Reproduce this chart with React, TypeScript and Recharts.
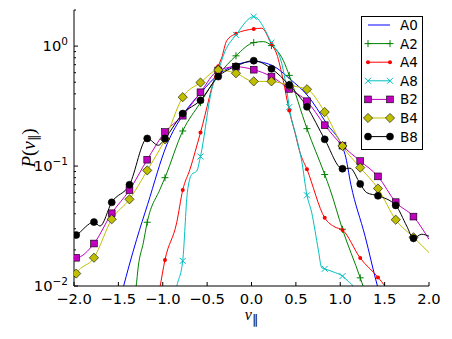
import React from 'react';
import { LineChart, Line, XAxis, YAxis, Legend, Label } from 'recharts';

const MARKER_X = [-1.975, -1.775, -1.575, -1.375, -1.175, -0.975, -0.775, -0.575, -0.375, -0.175, 0.025, 0.225, 0.425, 0.625, 0.825, 1.025, 1.225, 1.425, 1.625, 1.825];

const A0_x = [-1.5, -1.444, -1.38, -1.294, -1.17, -0.955, -0.768, -0.569, -0.366, -0.167, 0.032, 0.239, 0.434, 0.637, 0.839, 1.054, 1.12, 1.28, 1.422, 1.48];
const A0_y = [0.0069, 0.0098, 0.0147, 0.0245, 0.048, 0.15, 0.27, 0.41, 0.585, 0.7, 0.745, 0.686, 0.531, 0.383, 0.23, 0.125, 0.07, 0.026, 0.0098, 0.007];

const A2_x = [-1.33, -1.301, -1.275, -1.219, -1.175, -1.031, -0.975, -0.775, -0.575, -0.375, -0.175, 0.025, 0.133, 0.225, 0.358, 0.425, 0.625, 0.825, 0.885, 1.025, 1.225, 1.26, 1.3];
const A2_y = [0.0075, 0.0098, 0.0147, 0.0229, 0.034, 0.064, 0.08, 0.196, 0.338, 0.57, 0.83, 1.07, 1.09, 1.01, 0.76, 0.57, 0.205, 0.085, 0.064, 0.0297, 0.0117, 0.0098, 0.0075];

const A4_x = [-1.06, -1.031, -0.975, -0.843, -0.775, -0.693, -0.575, -0.375, -0.336, -0.279, -0.175, 0.025, 0.115, 0.225, 0.284, 0.358, 0.425, 0.49, 0.546, 0.625, 0.825, 0.941, 1.025, 1.225, 1.425, 1.508, 1.55];
const A4_y = [0.0075, 0.0098, 0.0165, 0.0337, 0.063, 0.094, 0.19, 0.68, 0.8, 1.11, 1.27, 1.39, 1.41, 1.04, 0.86, 0.515, 0.29, 0.19, 0.13, 0.094, 0.037, 0.031, 0.0293, 0.0171, 0.0118, 0.0098, 0.0085];

const A8_x = [-0.87, -0.843, -0.775, -0.723, -0.674, -0.617, -0.575, -0.448, -0.375, -0.3, -0.175, 0.025, 0.225, 0.34, 0.4, 0.425, 0.509, 0.566, 0.625, 0.678, 0.753, 0.791, 0.825, 0.922, 1.025, 1.091, 1.147, 1.18];
const A8_y = [0.0075, 0.0098, 0.0162, 0.06, 0.085, 0.091, 0.12, 0.435, 0.62, 0.9, 1.24, 1.76, 1.07, 0.72, 0.42, 0.31, 0.17, 0.11, 0.057, 0.041, 0.02, 0.0142, 0.0139, 0.0131, 0.0121, 0.0109, 0.0098, 0.0075];

const B2_x = [-2.0, ...MARKER_X, 2.0];
const B2_y = [0.0172, 0.0172, 0.0226, 0.0404, 0.063, 0.113, 0.192, 0.263, 0.412, 0.627, 0.673, 0.636, 0.557, 0.44, 0.347, 0.219, 0.148, 0.11, 0.082, 0.05, 0.0379, 0.0245];

const B4_x = [-2.0, ...MARKER_X, 2.0];
const B4_y = [0.0118, 0.0127, 0.0172, 0.036, 0.0528, 0.092, 0.167, 0.375, 0.497, 0.633, 0.594, 0.508, 0.508, 0.47, 0.437, 0.282, 0.147, 0.097, 0.065, 0.0357, 0.0255, 0.019];

const B8_x = [-2.0, -1.975, -1.775, -1.707, -1.575, -1.375, -1.175, -1.05, -0.975, -0.775, -0.575, -0.375, -0.175, 0.025, 0.225, 0.425, 0.625, 0.825, 1.025, 1.11, 1.225, 1.298, 1.425, 1.625, 1.749, 1.825, 1.918, 2.0];
const B8_y = [0.026, 0.0266, 0.0341, 0.0316, 0.0498, 0.0698, 0.17, 0.149, 0.17, 0.274, 0.354, 0.557, 0.679, 0.756, 0.648, 0.473, 0.312, 0.167, 0.095, 0.096, 0.071, 0.06, 0.0565, 0.047, 0.0316, 0.025, 0.027, 0.026];

const SERIES_NAMES = ['A0', 'A2', 'A4', 'A8', 'B2', 'B4', 'B8'];
const SERIES_COLORS = ['#0000ff', '#008000', '#ff0000', '#00bfbf', '#bf00bf', '#bfbf00', '#000000'];
const SERIES_MARKERS = ['none', 'plus', 'dot', 'x', 'square', 'diamond', 'circle'];

const X_TICKS = [-2, -1.5, -1, -0.5, 0, 0.5, 1, 1.5, 2];
const Y_MAJOR = [0.01, 0.1, 1];
const Y_MAJOR_EXP = ['\u22122', '\u22121', '0'];
const Y_MINOR = [0.02, 0.03, 0.04, 0.05, 0.06, 0.07, 0.08, 0.09, 0.2, 0.3, 0.4, 0.5, 0.6, 0.7, 0.8, 0.9, 2];
const Y_TICKS = [...Y_MAJOR, ...Y_MINOR].sort((a, b) => a - b);

const FONT = '"DejaVu Sans", sans-serif';
const SERIF = '"Liberation Serif", "DejaVu Serif", serif';

function build(xs: number[], ys: number[]) {
  return xs.map((x, i) => ({ x, y: ys[i], m: MARKER_X.some((mx) => Math.abs(mx - x) < 1e-6) }));
}

const SERIES_DATA = [
  build(A0_x, A0_y),
  build(A2_x, A2_y),
  build(A4_x, A4_y),
  build(A8_x, A8_y),
  build(B2_x, B2_y),
  build(B4_x, B4_y),
  build(B8_x, B8_y),
];

function renderMarker(kind: string, color: string, cx: number, cy: number, key: string) {
  switch (kind) {
    case 'plus':
      return (
        <g key={key}>
          <line x1={cx - 3.5} x2={cx + 3.5} y1={cy} y2={cy} stroke={color} strokeWidth={1} />
          <line x1={cx} x2={cx} y1={cy - 3.5} y2={cy + 3.5} stroke={color} strokeWidth={1} />
        </g>
      );
    case 'dot':
      return <circle key={key} cx={cx} cy={cy} r={2} fill={color} stroke="none" />;
    case 'x':
      return (
        <g key={key}>
          <line x1={cx - 3} x2={cx + 3} y1={cy - 3} y2={cy + 3} stroke={color} strokeWidth={1} />
          <line x1={cx - 3} x2={cx + 3} y1={cy + 3} y2={cy - 3} stroke={color} strokeWidth={1} />
        </g>
      );
    case 'square':
      return <rect key={key} x={cx - 3.4} y={cy - 3.4} width={6.8} height={6.8} fill={color} stroke="#000" strokeWidth={0.6} />;
    case 'diamond':
      return (
        <polygon key={key} points={`${cx},${cy - 4.6} ${cx + 4.6},${cy} ${cx},${cy + 4.6} ${cx - 4.6},${cy}`} fill={color} stroke="#000" strokeWidth={0.6} />
      );
    case 'circle':
      return <circle key={key} cx={cx} cy={cy} r={3.5} fill={color} stroke="#000" strokeWidth={0.6} />;
    default:
      return <g key={key} />;
  }
}

function makeDot(idx: number) {
  return (props: any) => {
    const { cx, cy, payload, index } = props;
    const key = `d-${idx}-${index}`;
    if (!payload || !payload.m || SERIES_MARKERS[idx] === 'none') return <g key={key} />;
    return renderMarker(SERIES_MARKERS[idx], SERIES_COLORS[idx], cx, cy, key);
  };
}

const fmtX = (v: number) => {
  const s = v.toFixed(1);
  return v < 0 ? '\u2212' + s.slice(1) : s;
};

const BottomTick = (props: any) => {
  const { x, y, payload } = props;
  return (
    <g>
      <line x1={x} x2={x} y1={y} y2={y - 4} stroke="#000" strokeWidth={1} />
      <text x={x} y={y + 17.5} textAnchor="middle" fontFamily={FONT} fontSize={14.7} fill="#000">
        {fmtX(payload.value)}
      </text>
    </g>
  );
};

const TopTick = (props: any) => {
  const { x, y } = props;
  return <line x1={x} x2={x} y1={y} y2={y + 4} stroke="#000" strokeWidth={1} />;
};

const LeftTick = (props: any) => {
  const { x, y, payload } = props;
  const mi = Y_MAJOR.findIndex((v) => Math.abs(v - payload.value) < 1e-9);
  if (mi < 0) {
    return <line x1={x} x2={x + 2} y1={y} y2={y} stroke="#000" strokeWidth={1} />;
  }
  return (
    <g>
      <line x1={x} x2={x + 4} y1={y} y2={y} stroke="#000" strokeWidth={1} />
      <text x={x - 6} y={y + 5} textAnchor="end" fontFamily={FONT} fontSize={14.7} fill="#000">
        10
        <tspan dy={-6.5} fontSize={10.5}>
          {Y_MAJOR_EXP[mi]}
        </tspan>
      </text>
    </g>
  );
};

const RightTick = (props: any) => {
  const { x, y, payload } = props;
  const major = Y_MAJOR.some((v) => Math.abs(v - payload.value) < 1e-9);
  return <line x1={x} x2={x - (major ? 4 : 2)} y1={y} y2={y} stroke="#000" strokeWidth={1} />;
};

const XLabel = (props: any) => {
  const vb = props.viewBox || {};
  const cx = vb.x + vb.width / 2;
  const y = vb.y + 34;
  return (
    <text x={cx} y={y} textAnchor="middle" fontFamily={SERIF} fontSize={16} fill="#000">
      <tspan fontStyle="italic">v</tspan>
      <tspan dy={4} fontSize={13} fontFamily={FONT}>
        {'\u2225'}
      </tspan>
    </text>
  );
};

const YLabel = (props: any) => {
  const vb = props.viewBox || {};
  const cx = 28;
  const cy = vb.y + vb.height / 2;
  return (
    <text
      x={cx}
      y={cy}
      transform={`rotate(-90, ${cx}, ${cy})`}
      textAnchor="middle"
      dominantBaseline="central"
      fontFamily={SERIF}
      fontSize={19}
      fill="#000"
    >
      <tspan fontStyle="italic">P</tspan>
      <tspan>(</tspan>
      <tspan fontStyle="italic">v</tspan>
      <tspan dy={5} fontSize={13} fontFamily={FONT}>
        {'\u2225'}
      </tspan>
      <tspan dy={-5}>)</tspan>
    </text>
  );
};

const renderLegend = () => (
  <svg width={63} height={134} style={{ display: 'block' }}>
    <rect x={0.5} y={0.5} width={61} height={133} fill="#fff" stroke="#000" strokeWidth={1} />
    {SERIES_NAMES.map((name, i) => {
      const y = 9 + i * 18.6;
      return (
        <g key={name}>
          <line x1={7} x2={29} y1={y} y2={y} stroke={SERIES_COLORS[i]} strokeWidth={1} />
          {renderMarker(SERIES_MARKERS[i], SERIES_COLORS[i], 7, y, `l1-${i}`)}
          {renderMarker(SERIES_MARKERS[i], SERIES_COLORS[i], 29, y, `l2-${i}`)}
          <text x={39} y={y + 5} fontFamily={FONT} fontSize={13.5} fill="#000">
            {name}
          </text>
        </g>
      );
    })}
  </svg>
);

export default function App() {
  return (
    <div style={{ position: 'absolute', left: 0, top: 0, width: 452, height: 339, background: '#fff' }}>
      <LineChart width={452} height={339} margin={{ top: 10, right: 23, left: 0, bottom: 0 }}>
        <XAxis
          xAxisId={0}
          dataKey="x"
          type="number"
          domain={[-2, 2]}
          ticks={X_TICKS}
          interval={0}
          allowDataOverflow
          height={53}
          tickSize={0}
          tickMargin={0}
          tickLine={false}
          axisLine={{ stroke: '#000', strokeWidth: 1 }}
          tick={<BottomTick />}
        >
          <Label content={<XLabel />} />
        </XAxis>
        <XAxis
          xAxisId="top"
          orientation="top"
          dataKey="x"
          type="number"
          domain={[-2, 2]}
          ticks={X_TICKS}
          interval={0}
          allowDataOverflow
          height={0}
          tickSize={0}
          tickMargin={0}
          tickLine={false}
          axisLine={{ stroke: '#000', strokeWidth: 1 }}
          tick={<TopTick />}
        />
        <YAxis
          yAxisId={0}
          type="number"
          scale="log"
          domain={[0.01, 2]}
          ticks={Y_TICKS}
          interval={0}
          allowDataOverflow
          width={74}
          tickSize={0}
          tickMargin={0}
          tickLine={false}
          axisLine={{ stroke: '#000', strokeWidth: 1 }}
          tick={<LeftTick />}
        >
          <Label content={<YLabel />} />
        </YAxis>
        <YAxis
          yAxisId="right"
          orientation="right"
          type="number"
          scale="log"
          domain={[0.01, 2]}
          ticks={Y_TICKS}
          interval={0}
          allowDataOverflow
          width={0}
          tickSize={0}
          tickMargin={0}
          tickLine={false}
          axisLine={{ stroke: '#000', strokeWidth: 1 }}
          tick={<RightTick />}
        />
        {SERIES_NAMES.map((name, i) => (
          <Line
            key={name}
            name={name}
            data={SERIES_DATA[i]}
            dataKey="y"
            xAxisId={0}
            yAxisId={0}
            type="monotoneX"
            stroke={SERIES_COLORS[i]}
            strokeWidth={1}
            dot={makeDot(i)}
            activeDot={false}
            isAnimationActive={false}
          />
        ))}
        <Legend
          layout="vertical"
          align="center"
          verticalAlign="middle"
          content={renderLegend}
          wrapperStyle={{ left: 361, top: 16, width: 63, height: 134 }}
        />
      </LineChart>
    </div>
  );
}
